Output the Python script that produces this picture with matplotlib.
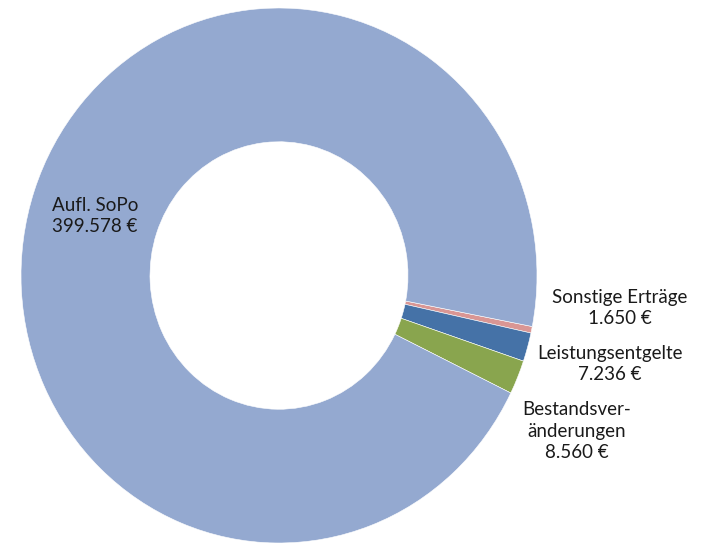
import matplotlib
matplotlib.use("Agg")
import matplotlib.pyplot as plt

labels = ["Sonstige Erträge", "Leistungsentgelte", "Bestandsver-\nänderungen", "Aufl. SoPo"]
values = [1650, 7236, 8560, 399578]
value_text = ["1.650 €", "7.236 €", "8.560 €", "399.578 €"]
colors = ["#D99694", "#4572A7", "#89A54E", "#94A9D0"]

plt.rcParams['font.family'] = ['Lato', 'DejaVu Sans']

W, H = 702, 545
fig = plt.figure(figsize=(W/100, H/100), dpi=100)
ax = fig.add_axes([0, 0, 1, 1])

# donut, first slice just below 3 o'clock, going clockwise
ax.pie(values, colors=colors, startangle=-11, counterclock=False,
       radius=1, wedgeprops=dict(width=0.5, edgecolor='white', linewidth=0.4))

# pixel geometry of the reference (slightly stretched vertically)
cx, cy, rx, ry = 279, 275.5, 258, 267.5
ax.set_aspect('auto')
ax.set_xlim(-cx/rx, (W-cx)/rx)
ax.set_ylim(-(H-cy)/ry, cy/ry)
ax.axis('off')

# label positions in pixels (center of text block)
label_pos = [(620, 308), (610, 364), (577, 431), (95, 216)]
for lab, txt, (px, py) in zip(labels, value_text, label_pos):
    fig.text(px/W, 1-py/H, lab + "\n" + txt, ha='center', va='center',
             fontsize=13.5, color='#1a1a1a', linespacing=1.35)

fig.savefig("out.png", dpi=100)
